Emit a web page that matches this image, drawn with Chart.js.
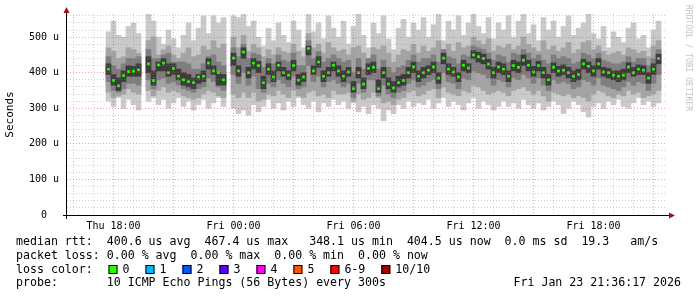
<!DOCTYPE html>
<html>
<head>
<meta charset="utf-8">
<script src="https://cdn.jsdelivr.net/npm/chart.js@4.4.1/dist/chart.umd.min.js"></script>
<style>
  html, body { margin: 0; padding: 0; background: #fff; }
  #wrap { width: 697px; height: 297px; }
</style>
</head>
<body>
<div id="wrap"><canvas id="smoke" width="697" height="297"></canvas></div>
<script>
// samples every 15 minutes, first one Thu 17:45 (hours counted from Thu 00:00)
const firstHour = 17.75;
const stepHours = 0.25;
const axisStart = 15.675;
const axisEnd = 45.675;

const median = [410, 378, 363, 392, 403, 404, 408, null,
  425, 378, 422, 427, 400, 412, 390, 380, 375, 372, 388, 390, 427, 405, 400, 380, null,
  441, 405, 458, 400, 427, 420, 372, 410, 388, 421, 400, 393, 420, 379, 388, 468, 405, 430, 390, 400, 421, 405,
  390, 402, 355, 400, 368, 412, 415, 355, 400, 368, 357, 372, 378, 400, 416, 390,
  400, 407, 416, 385, 441, 410, 402, 388, 421, 413, 450, 445, 440, 424, 400, 416,
  410, 390, 420, 415, 435, 421, 402, 420, 400, 380, 415, 405, 407, 400, 390, 395,
  425, 418, 405, 425, 402, 400, 393, 390, 393, 416, 400, 410, 407, 385, 410, 440];

// outermost pings (lightest smoke)
const ping10 = [515, 545, 505, 500, 530, 540, 510, null,
  565, 545, 500, 480, 520, 495, 470, 505, 540, 490, 525, 560, 510, 560, 540, 555, null,
  560, 555, 565, 530, 545, 500, 475, 525, 490, 540, 505, 485, 545, 520, 470, 565, 515, 540, 495, 560, 525, 500,
  545, 480, 530, 565, 505, 470, 540, 510, 560, 495, 465, 525, 550, 500, 540, 520,
  555, 500, 535, 565, 490, 545, 520, 560, 505, 540, 565, 530, 510, 555, 495, 540,
  520, 560, 500, 545, 565, 510, 535, 490, 555, 520, 545, 500, 530, 560, 505, 525,
  540, 565, 510, 495, 530, 470, 515, 500, 485, 525, 540, 495, 505, 470, 520, 545];
const ping1 = [320, 305, 330, 300, 325, 310, 295, null,
  320, 330, 310, 325, 300, 315, 330, 305, 320, 295, 310, 325, 300, 315, 330, 305, null,
  300, 285, 295, 280, 310, 290, 305, 325, 300, 315, 295, 320, 305, 330, 310, 300, 320, 290, 315, 305, 325, 310,
  320, 300, 315, 290, 305, 285, 310, 300, 265, 295, 285, 310, 300, 320, 305, 315,
  310, 325, 300, 315, 330, 305, 320, 310, 295, 315, 330, 300, 320, 310, 295, 305,
  320, 305, 315, 300, 325, 310, 300, 315, 295, 305, 320, 310, 285, 300, 320, 310,
  290, 275, 305, 315, 300, 320, 310, 325, 305, 300, 315, 330, 310, 320, 305, 315];

const ping9 = [470, 460, 440, 445, 470, 465, 455, null,
  490, 500, 450, 465, 475, 450, 440, 455, 470, 445, 450, 475, 465, 490, 470, 480, null,
  500, 470, 505, 460, 480, 470, 445, 465, 450, 470, 460, 455, 480, 460, 445, 510, 470, 480, 455, 485, 470, 460,
  465, 450, 470, 475, 455, 440, 470, 465, 475, 455, 430, 450, 465, 460, 480, 455,
  475, 460, 470, 490, 465, 480, 460, 485, 470, 475, 500, 490, 480, 495, 460, 475,
  470, 480, 465, 475, 500, 480, 470, 460, 490, 465, 475, 460, 470, 485, 455, 465,
  485, 490, 465, 475, 460, 450, 455, 460, 450, 470, 465, 455, 460, 445, 475, 490];
const ping2 = [345, 330, 335, 340, 355, 345, 340, null,
  350, 335, 350, 360, 345, 350, 345, 335, 330, 325, 330, 340, 350, 345, 335, 330, null,
  340, 330, 345, 330, 345, 320, 325, 340, 335, 350, 340, 330, 350, 335, 330, 345, 350, 335, 340, 330, 350, 340,
  340, 345, 320, 340, 325, 330, 345, 330, 315, 320, 310, 325, 330, 345, 350, 335,
  340, 350, 355, 330, 360, 345, 340, 335, 350, 345, 365, 360, 350, 340, 345, 350,
  345, 335, 350, 355, 360, 350, 340, 350, 335, 320, 345, 340, 335, 340, 330, 335,
  330, 320, 340, 350, 345, 335, 330, 340, 335, 350, 340, 345, 330, 335, 340, 350];

const ping8 = [445, 420, 410, 425, 440, 440, 445, null,
  465, 440, 440, 450, 455, 430, 430, 430, 425, 410, 410, 425, 445, 450, 430, 420, null,
  470, 445, 480, 440, 455, 450, 415, 440, 425, 450, 435, 430, 455, 420, 420, 490, 440, 460, 430, 440, 450, 440,
  430, 435, 400, 440, 410, 440, 450, 410, 435, 415, 400, 415, 420, 435, 450, 430,
  440, 440, 450, 430, 465, 445, 440, 425, 450, 445, 475, 470, 465, 455, 435, 450,
  445, 430, 455, 450, 465, 455, 440, 450, 435, 425, 450, 440, 445, 440, 425, 430,
  455, 450, 440, 455, 435, 430, 425, 425, 430, 445, 430, 440, 440, 420, 440, 465];
const ping3 = [375, 350, 345, 355, 370, 370, 365, null,
  380, 355, 380, 385, 370, 375, 365, 355, 350, 345, 355, 360, 385, 375, 360, 350, null,
  395, 370, 400, 365, 390, 355, 345, 370, 360, 380, 370, 360, 390, 355, 360, 420, 375, 390, 360, 375, 380, 370,
  360, 370, 330, 370, 345, 380, 380, 335, 365, 340, 330, 345, 350, 370, 380, 360,
  365, 375, 380, 355, 400, 375, 370, 355, 385, 380, 405, 400, 395, 385, 365, 380,
  375, 360, 385, 380, 395, 385, 370, 385, 365, 350, 380, 370, 375, 370, 355, 360,
  380, 375, 365, 385, 365, 360, 355, 350, 360, 375, 365, 375, 370, 350, 370, 395];

// innermost pings around the median (darkest smoke)
const ping7 = [425, 395, 385, 405, 420, 418, 425, null,
  445, 405, 430, 440, 425, 425, 410, 400, 395, 385, 395, 405, 440, 420, 400, 395, null,
  455, 420, 470, 415, 440, 432, 390, 425, 405, 430, 415, 405, 435, 395, 400, 475, 420, 445, 405, 415, 430, 420,
  405, 415, 375, 415, 385, 425, 430, 380, 415, 385, 375, 390, 395, 415, 430, 405,
  415, 420, 430, 400, 455, 425, 415, 400, 435, 425, 462, 458, 452, 438, 415, 430,
  425, 405, 435, 430, 450, 435, 418, 432, 415, 395, 428, 418, 422, 415, 405, 410,
  438, 430, 420, 440, 415, 412, 405, 405, 410, 428, 415, 422, 420, 400, 425, 452];
const ping4 = [395, 365, 350, 375, 390, 390, 390, null,
  400, 365, 405, 405, 390, 395, 380, 365, 360, 355, 370, 375, 410, 395, 365, 365, null,
  420, 390, 440, 385, 410, 400, 355, 395, 375, 405, 390, 380, 405, 365, 375, 450, 395, 415, 375, 390, 405, 390,
  375, 390, 345, 385, 355, 395, 400, 345, 385, 355, 345, 360, 365, 385, 400, 375,
  385, 395, 400, 370, 425, 395, 390, 375, 405, 400, 440, 430, 425, 410, 385, 400,
  395, 375, 405, 400, 420, 405, 390, 405, 385, 365, 400, 390, 395, 385, 375, 380,
  410, 400, 390, 410, 390, 385, 380, 375, 380, 400, 390, 395, 395, 370, 395, 425];

const xMinorHours = [16, 17, 18, 19, 20, 21, 22, 23, 24, 25, 26, 27, 28, 29, 30,
  31, 32, 33, 34, 35, 36, 37, 38, 39, 40, 41, 42, 43, 44, 45];
const xTickHours = [18, 24, 30, 36, 42];
const xTickLabels = ['Thu 18:00', 'Fri 00:00', 'Fri 06:00', 'Fri 12:00', 'Fri 18:00'];
const yTickValues = [0, 100, 200, 300, 400, 500];
const yTickLabels = ['  0  ', '100 u', '200 u', '300 u', '400 u', '500 u'];

const lossLabels = ['0', '1', '2', '3', '4', '5', '6-9', '10/10'];
const lossColors = ['#26ff00', '#00b8ff', '#0059ff', '#5e00ff', '#ff00ff', '#ff5500', '#ff0000', '#a00000'];

const statLines = [
  'median rtt:  400.6 us avg  467.4 us max   348.1 us min  404.5 us now  0.0 ms sd  19.3   am/s',
  'packet loss: 0.00 % avg  0.00 % max  0.00 % min  0.00 % now'
];
const probeText = 'probe:       10 ICMP Echo Pings (56 Bytes) every 300s';
const stampText = 'Fri Jan 23 21:36:17 2026';
const watermark = 'RRDTOOL / TOBI OETIKER';

const mono = '"DejaVu Sans Mono", "Liberation Mono", monospace';

function band(lo, hi) {
  const out = [];
  lo.forEach((v, i) => {
    if (v == null) return;
    out.push({ x: firstHour + i * stepHours, y: [v, hi[i]] });
  });
  return out;
}

function medianPoints() {
  const out = [];
  median.forEach((v, i) => {
    if (v == null) return;
    out.push({ x: firstHour + i * stepHours, y: v });
  });
  return out;
}

function smokeSet(lo, hi, color) {
  return {
    type: 'bar',
    data: band(lo, hi),
    backgroundColor: color,
    borderWidth: 0,
    grouped: false,
    barPercentage: 1,
    categoryPercentage: 1
  };
}

const decor = {
  id: 'decor',
  afterDraw(chart) {
    const ctx = chart.ctx;
    const a = chart.chartArea;
    ctx.save();

    // axes
    ctx.strokeStyle = '#000';
    ctx.lineWidth = 1;
    ctx.beginPath();
    ctx.moveTo(a.left - 4, a.bottom + 0.5);
    ctx.lineTo(a.right + 2, a.bottom + 0.5);
    ctx.moveTo(a.left - 0.5, a.top - 1);
    ctx.lineTo(a.left - 0.5, a.bottom + 4);
    ctx.stroke();

    // arrow heads
    ctx.fillStyle = '#a01010';
    ctx.beginPath();
    ctx.moveTo(a.left - 3.5, a.top - 1);
    ctx.lineTo(a.left + 2.5, a.top - 1);
    ctx.lineTo(a.left - 0.5, a.top - 7);
    ctx.closePath();
    ctx.fill();
    ctx.beginPath();
    ctx.moveTo(a.right + 2, a.bottom - 2.5);
    ctx.lineTo(a.right + 2, a.bottom + 3.5);
    ctx.lineTo(a.right + 8, a.bottom + 0.5);
    ctx.closePath();
    ctx.fill();

    // watermark
    ctx.save();
    ctx.translate(684, 5);
    ctx.rotate(Math.PI / 2);
    ctx.font = '8px ' + mono;
    ctx.fillStyle = '#c4c4c4';
    ctx.textBaseline = 'top';
    ctx.textAlign = 'left';
    ctx.fillText(watermark, 0, -8);
    ctx.restore();

    // legend text
    ctx.font = '11.6px ' + mono;
    ctx.fillStyle = '#000';
    ctx.textBaseline = 'middle';
    ctx.textAlign = 'left';
    ctx.fillText(statLines[0], 16, 241.5);
    ctx.fillText(statLines[1], 16, 255.5);
    ctx.fillText('loss color:', 16, 269.5);
    let bx = 108.5;
    lossLabels.forEach((lab, i) => {
      ctx.fillStyle = lossColors[i];
      ctx.fillRect(bx, 265, 9, 9);
      ctx.strokeStyle = '#000';
      ctx.strokeRect(bx + 0.5, 265.5, 8, 8);
      ctx.fillStyle = '#000';
      ctx.fillText(lab, bx + 14, 269.5);
      bx += 14 + ctx.measureText(lab).width + 16;
    });
    ctx.fillText(probeText, 16, 283);
    ctx.textAlign = 'right';
    ctx.fillText(stampText, 681, 283);
    ctx.restore();
  }
};

const chart = new Chart(document.getElementById('smoke'), {
  type: 'bar',
  data: {
    datasets: [
      {
        type: 'line',
        data: medianPoints(),
        showLine: false,
        borderWidth: 0,
        pointStyle: 'rect',
        pointRadius: 1.9,
        pointHoverRadius: 1.9,
        pointBorderWidth: 0,
        pointBorderColor: '#26ff00',
        pointBackgroundColor: '#26ff00'
      },
      smokeSet(ping4, ping7, '#3c3c3c'),
      smokeSet(ping3, ping8, '#7e7e7e'),
      smokeSet(ping2, ping9, '#a4a4a4'),
      smokeSet(ping1, ping10, '#cacaca')
    ]
  },
  options: {
    responsive: false,
    maintainAspectRatio: false,
    devicePixelRatio: 1,
    animation: false,
    layout: { padding: { top: 14, right: 30, bottom: 0, left: 0 } },
    plugins: { legend: { display: false }, tooltip: { enabled: false } },
    scales: {
      x: {
        type: 'linear',
        min: axisStart,
        max: axisEnd,
        offset: false,
        afterFit(s) { s.height = 82; },
        afterBuildTicks(s) { s.ticks = xMinorHours.map(h => ({ value: h })); },
        grid: {
          offset: false,
          drawTicks: false,
          z: 1,
          color: c => (c.tick && c.tick.value % 3 === 0) ? 'rgba(225,70,70,0.5)' : 'rgba(150,150,150,0.45)'
        },
        border: { display: false, dash: [1, 2] },
        ticks: {
          autoSkip: false,
          maxRotation: 0,
          padding: 5,
          color: '#000',
          font: { family: mono, size: 10 },
          callback: v => {
            const k = xTickHours.indexOf(v);
            return k >= 0 ? xTickLabels[k] : '';
          }
        }
      },
      y: {
        min: 0,
        max: 565,
        afterFit(s) { s.width = 67; },
        afterBuildTicks(s) {
          const t = [];
          for (let v = 0; v <= 560; v += 20) t.push({ value: v });
          s.ticks = t;
        },
        grid: {
          drawTicks: false,
          z: 1,
          color: c => (c.tick && c.tick.value % 100 === 0) ? 'rgba(225,70,70,0.5)' : 'rgba(150,150,150,0.45)'
        },
        border: { display: false, dash: [1, 2] },
        title: {
          display: true,
          text: 'Seconds',
          color: '#000',
          font: { family: mono, size: 11 },
          padding: { top: 4, bottom: 0 }
        },
        ticks: {
          autoSkip: false,
          padding: 8,
          color: '#000',
          font: { family: mono, size: 10 },
          callback: v => {
            const k = yTickValues.indexOf(v);
            return k >= 0 ? yTickLabels[k] : '';
          }
        }
      }
    }
  },
  plugins: [decor]
});
</script>
</body>
</html>
